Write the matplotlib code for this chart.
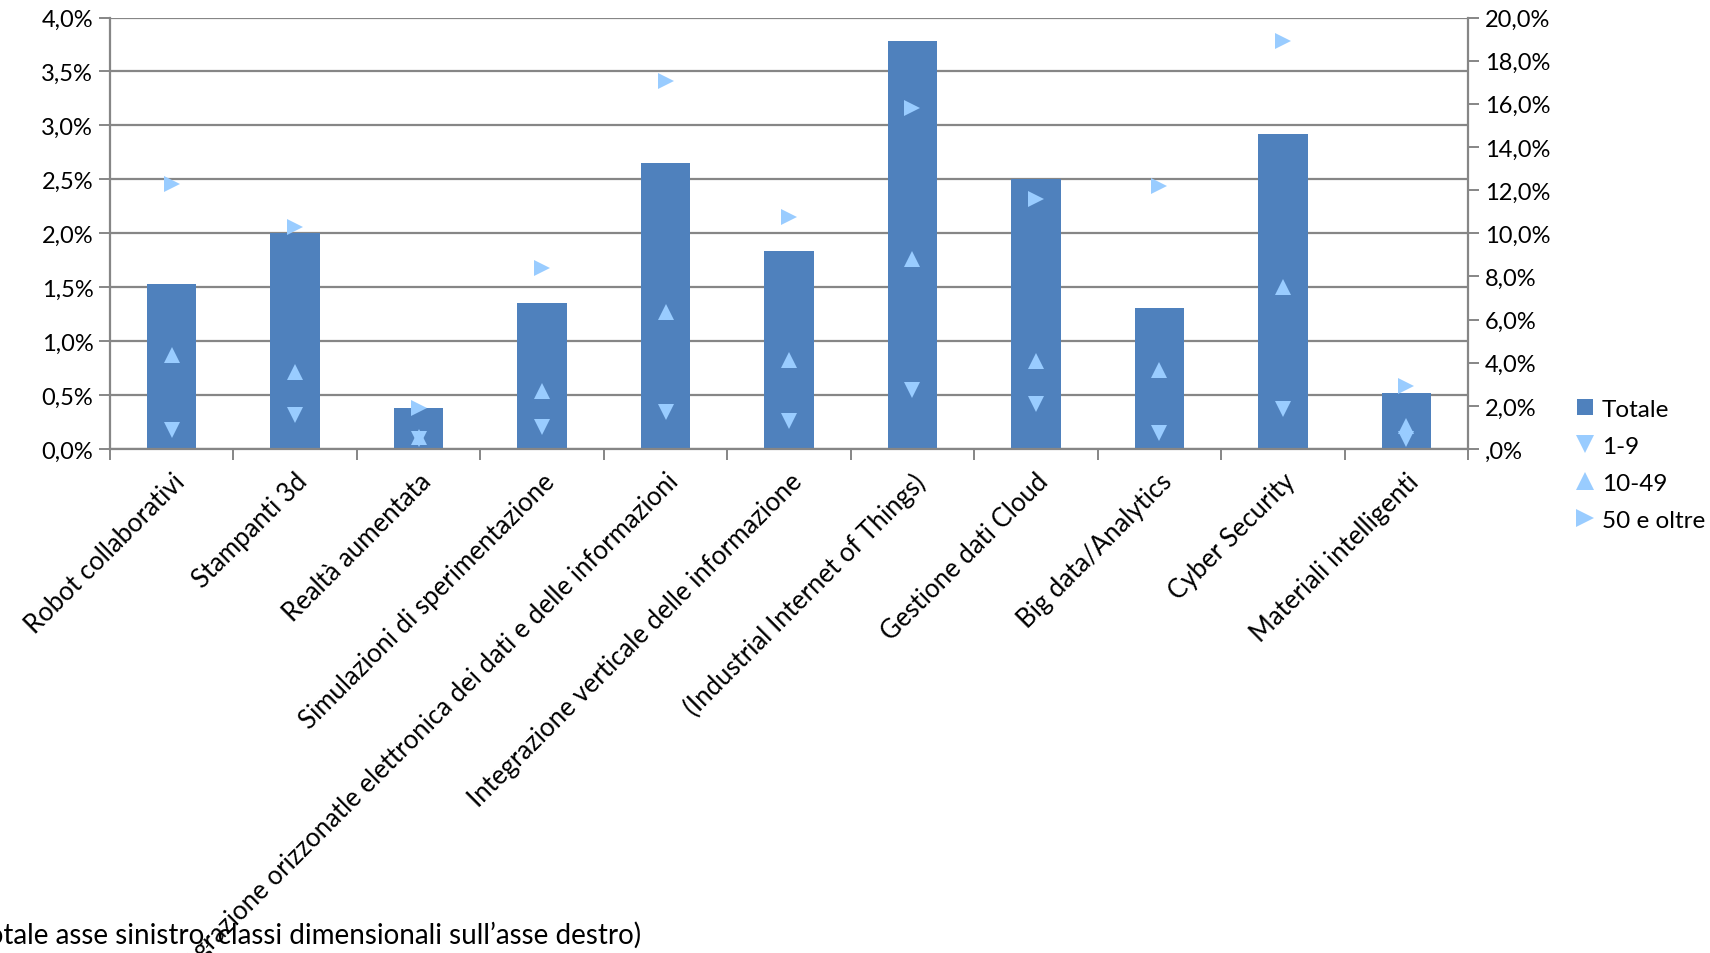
import matplotlib
matplotlib.use("Agg")
import matplotlib.pyplot as plt
import numpy as np
from matplotlib.lines import Line2D

plt.rcParams['font.family'] = ['Lato', 'DejaVu Sans']

categories = [
    "Robot collaborativi",
    "Stampanti 3d",
    "Realtà aumentata",
    "Simulazioni di sperimentazione",
    "Integrazione orizzonatle elettronica dei dati e delle informazioni",
    "Integrazione verticale delle informazione",
    "(Industrial Internet of Things)",
    "Gestione dati Cloud",
    "Big data/Analytics",
    "Cyber Security",
    "Materiali intelligenti",
]
# Left axis (%)
totale = [1.53, 2.00, 0.38, 1.35, 2.65, 1.84, 3.78, 2.50, 1.31, 2.92, 0.52]
# Right axis (%)
classe_1_9 = [0.86, 1.57, 0.45, 1.01, 1.72, 1.31, 2.73, 2.07, 0.76, 1.87, 0.45]
classe_10_49 = [4.34, 3.59, 0.56, 2.68, 6.36, 4.14, 8.79, 4.09, 3.64, 7.50, 1.06]
classe_50 = [12.27, 10.30, 1.92, 8.38, 17.07, 10.76, 15.80, 11.60, 12.20, 18.90, 2.93]

left_ticks = ["0,0%", "0,5%", "1,0%", "1,5%", "2,0%", "2,5%", "3,0%", "3,5%", "4,0%"]
right_ticks = [",0%", "2,0%", "4,0%", "6,0%", "8,0%", "10,0%", "12,0%", "14,0%", "16,0%", "18,0%", "20,0%"]
legend_labels = ["Totale", "1-9", "10-49", "50 e oltre"]
footnote = "(Totale asse sinistro, classi dimensionali sull\u2019asse destro)"

BAR = "#4F81BD"
MK = "#99CCFF"
GRID = "#868686"
FS_TICK = 17
FS_CAT = 18.5
FS_LEG = 17.5
FS_NOTE = 20

fig = plt.figure(figsize=(17.10, 9.54), dpi=100)
ax = fig.add_axes([0.0643, 0.5283, 0.8585 - 0.0643, 0.9806 - 0.5283])
ax2 = ax.twinx()

x = np.arange(len(categories))
ax.bar(x, totale, width=0.4, color=BAR, zorder=2)
ax.set_xlim(-0.5, len(categories) - 0.5)
ax.set_ylim(0, 4.0)
ax.set_yticks(np.arange(0, 4.01, 0.5))
ax.set_yticklabels(left_ticks, fontsize=FS_TICK)
ax.yaxis.grid(True, color=GRID, linewidth=1.6, zorder=0)
ax.set_axisbelow(True)

ax.set_xticks(np.arange(-0.5, len(categories) + 0.5, 1))
ax.set_xticklabels([])
ax.set_xticks(x, minor=True)
ax.set_xticklabels(categories, minor=True, rotation=45, ha='right', va='top',
                   rotation_mode='anchor', fontsize=FS_CAT)
ax.tick_params(axis='x', which='minor', length=0, pad=14)
ax.tick_params(axis='x', which='major', length=8, width=1.4, color=GRID)
ax.tick_params(axis='y', length=8, width=1.4, color=GRID, pad=4)

for s in ['top', 'right']:
    ax.spines[s].set_visible(False)
for s in ['left', 'bottom']:
    ax.spines[s].set_color(GRID)
    ax.spines[s].set_linewidth(1.6)

ax2.set_ylim(0, 20)
ax2.set_yticks(np.arange(0, 20.01, 2))
ax2.set_yticklabels(right_ticks, fontsize=FS_TICK)
ax2.tick_params(axis='y', length=8, width=1.4, color=GRID, pad=4)
for s in ['top', 'left', 'bottom']:
    ax2.spines[s].set_visible(False)
ax2.spines['right'].set_color(GRID)
ax2.spines['right'].set_linewidth(1.6)

ms = 11
ax2.plot(x, classe_1_9, linestyle='none', marker='v', color=MK, markersize=ms, markeredgewidth=0, zorder=3)
ax2.plot(x, classe_10_49, linestyle='none', marker='^', color=MK, markersize=ms, markeredgewidth=0, zorder=3)
ax2.plot(x, classe_50, linestyle='none', marker='>', color=MK, markersize=ms, markeredgewidth=0, zorder=3)

handles = [
    Line2D([], [], linestyle='none', marker='s', color=BAR, markersize=12, markeredgewidth=0),
    Line2D([], [], linestyle='none', marker='v', color=MK, markersize=13, markeredgewidth=0),
    Line2D([], [], linestyle='none', marker='^', color=MK, markersize=13, markeredgewidth=0),
    Line2D([], [], linestyle='none', marker='>', color=MK, markersize=13, markeredgewidth=0),
]
fig.legend(handles, legend_labels, loc='upper left', bbox_to_anchor=(0.921, 0.581),
           frameon=False, fontsize=FS_LEG, handlelength=0.8, handletextpad=0.3,
           labelspacing=0.66, borderaxespad=0, borderpad=0)

fig.text(-0.021, 0.02, footnote, fontsize=FS_NOTE, ha='left', va='center')

fig.savefig("out.png", dpi=100)
